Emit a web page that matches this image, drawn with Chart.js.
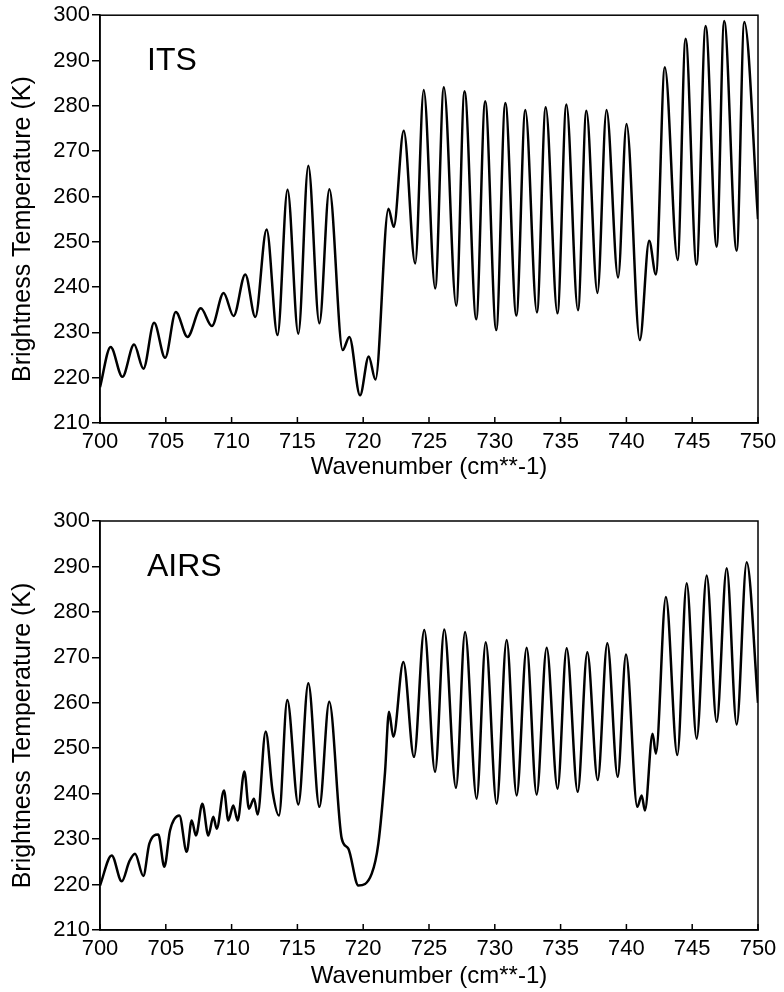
<!DOCTYPE html>
<html>
<head>
<meta charset="utf-8">
<script src="https://cdn.jsdelivr.net/npm/chart.js@4.4.1/dist/chart.umd.min.js"></script>
<style>
  body { margin: 0; background: #fff; }
  .panel { position: absolute; left: 0; width: 784px; }
</style>
</head>
<body>
<div class="panel" style="top:0px"><canvas id="chartITS" width="784" height="485"></canvas></div>
<div class="panel" style="top:492px"><canvas id="chartAIRS" width="784" height="500"></canvas></div>
<script>
// ITS spectrum, peaks and troughs
var itsWavenumber = [700.0, 700.81, 701.70, 702.59, 703.30, 704.11, 704.95, 705.76, 706.65, 707.66,
  708.50, 709.39, 710.15, 711.04, 711.80, 712.66, 713.49, 714.25, 715.07, 715.83,
  716.67, 717.43, 718.44, 718.95, 719.76, 720.42, 720.93, 721.92, 722.32, 723.08,
  723.95, 724.60, 725.47, 726.13, 727.07, 727.70, 728.59, 729.27, 730.11, 730.80,
  731.64, 732.32, 733.20, 733.87, 734.76, 735.44, 736.32, 736.96, 737.80, 738.49,
  739.37, 740.01, 741.02, 741.73, 742.24, 742.92, 743.89, 744.50, 745.33, 746.02,
  746.86, 747.43, 748.38, 748.96, 750.0];
var itsTemperature = [217.9, 226.8, 220.2, 227.3, 222.0, 232.1, 224.4, 234.5, 229.0, 235.3,
  231.4, 238.7, 233.6, 242.8, 233.4, 252.7, 229.4, 261.5, 229.7, 266.8,
  232.0, 261.6, 226.1, 229.0, 216.1, 224.7, 219.6, 257.3, 253.3, 274.5,
  245.2, 283.5, 239.7, 284.1, 235.9, 283.2, 232.9, 281.0, 230.5, 280.6,
  233.7, 279.1, 234.4, 279.7, 234.2, 280.3, 234.9, 278.9, 238.7, 279.1,
  242.1, 276.0, 228.3, 250.2, 242.8, 288.5, 246.0, 294.8, 244.9, 297.6,
  248.9, 298.7, 248.0, 298.5, 255.0];

// AIRS spectrum
var airsWavenumber = [700.0, 700.89, 701.65, 702.23, 702.66, 703.29, 703.75, 704.43, 704.89, 705.32,
  706.03, 706.59, 706.97, 707.29, 707.78, 708.23, 708.61, 708.87, 709.42, 709.75,
  710.13, 710.46, 710.97, 711.32, 711.70, 711.98, 712.59, 713.12, 713.60, 714.23,
  715.07, 715.83, 716.67, 717.42, 718.37, 718.87, 719.63, 720.65, 721.15, 721.66,
  721.96, 722.29, 723.05, 723.86, 724.64, 725.46, 726.16, 727.05, 727.74, 728.62,
  729.31, 730.14, 730.90, 731.66, 732.42, 733.18, 733.94, 734.77, 735.46, 736.30,
  737.03, 737.82, 738.55, 739.34, 739.97, 740.83, 741.16, 741.41, 741.99, 742.24,
  743.00, 743.87, 744.58, 745.34, 746.10, 746.86, 747.62, 748.38, 749.14, 750.0];
var airsTemperature = [219.8, 226.4, 220.7, 225.1, 226.8, 221.9, 229.0, 231.0, 223.9, 231.9,
  235.2, 227.2, 234.1, 230.8, 237.8, 230.8, 234.9, 232.3, 240.7, 234.1,
  237.4, 234.1, 244.9, 236.7, 238.9, 235.4, 253.7, 240.4, 235.2, 260.6,
  237.6, 264.3, 237.1, 260.2, 230.1, 227.9, 219.8, 222.4, 229.0, 244.8,
  258.0, 252.5, 269.0, 248.1, 276.0, 244.8, 276.1, 241.3, 275.6, 238.9,
  273.3, 237.8, 273.8, 239.6, 272.1, 239.8, 272.1, 241.1, 272.0, 240.4,
  271.1, 243.0, 273.1, 243.7, 270.6, 237.1, 239.6, 236.3, 253.2, 248.8,
  283.3, 248.5, 286.3, 252.1, 288.0, 255.8, 289.6, 255.2, 290.9, 260.0];

var yTitle = 'Brightness Temperature (K)';
var xTitle = 'Wavenumber (cm**-1)';

Chart.defaults.font.family = '"Liberation Sans", Arial, Helvetica, sans-serif';
Chart.defaults.color = '#000';

// box frame, inward x ticks, panel name and y title
var framePlugin = {
  id: 'frame',
  afterDraw: function (chart, args, opts) {
    var ctx = chart.ctx, a = chart.chartArea, x = chart.scales.x;
    ctx.save();
    ctx.strokeStyle = '#000';
    ctx.lineWidth = 1.5;
    ctx.strokeRect(a.left, a.top, a.right - a.left, a.bottom - a.top);
    x.ticks.forEach(function (t) {
      var px = x.getPixelForValue(t.value);
      ctx.beginPath();
      ctx.moveTo(px, a.bottom);
      ctx.lineTo(px, a.bottom - 6);
      ctx.stroke();
    });
    ctx.fillStyle = '#000';
    ctx.font = '32px "Liberation Sans", Arial, sans-serif';
    ctx.textBaseline = 'alphabetic';
    ctx.fillText(opts.label, a.left + 47, a.top + 55);
    ctx.translate(23, (a.top + a.bottom) / 2 + 10);
    ctx.rotate(-Math.PI / 2);
    ctx.textAlign = 'center';
    ctx.textBaseline = 'middle';
    ctx.font = '25px "Liberation Sans", Arial, sans-serif';
    ctx.fillText(yTitle, 0, 0);
    ctx.restore();
  }
};

function makeChart(id, label, xs, ys, padTop, titlePadBottom) {
  var points = xs.map(function (v, i) { return { x: v, y: ys[i] }; });
  return new Chart(document.getElementById(id), {
    type: 'line',
    data: {
      datasets: [{
        data: points,
        borderColor: '#000',
        borderWidth: 2.5,
        pointRadius: 0,
        cubicInterpolationMode: 'monotone',
        fill: false
      }]
    },
    plugins: [framePlugin],
    options: {
      responsive: false,
      animation: false,
      devicePixelRatio: 1,
      layout: { padding: { top: padTop, right: 26, left: 0, bottom: 0 } },
      plugins: {
        legend: { display: false },
        tooltip: { enabled: false },
        frame: { label: label }
      },
      scales: {
        x: {
          type: 'linear',
          min: 700,
          max: 750,
          afterFit: function (s) { s.height = 62; },
          grid: { display: true, drawOnChartArea: false, drawTicks: false },
          border: { color: '#000', width: 1.5 },
          ticks: { stepSize: 5, padding: 6, font: { size: 22 }, color: '#000' },
          title: { display: true, text: xTitle, font: { size: 24 }, color: '#000', padding: { top: 0, bottom: titlePadBottom } }
        },
        y: {
          min: 210,
          max: 300,
          afterFit: function (s) { s.width = 100; },
          grid: { drawOnChartArea: false, drawTicks: true, tickLength: 8, color: '#000', lineWidth: 1.5 },
          border: { color: '#000', width: 1.5 },
          ticks: { stepSize: 10, padding: 2, font: { size: 22 }, color: '#000' }
        }
      }
    }
  });
}

makeChart('chartITS', 'ITS', itsWavenumber, itsTemperature, 13, 3);
makeChart('chartAIRS', 'AIRS', airsWavenumber, airsTemperature, 29, 1);
</script>
</body>
</html>
